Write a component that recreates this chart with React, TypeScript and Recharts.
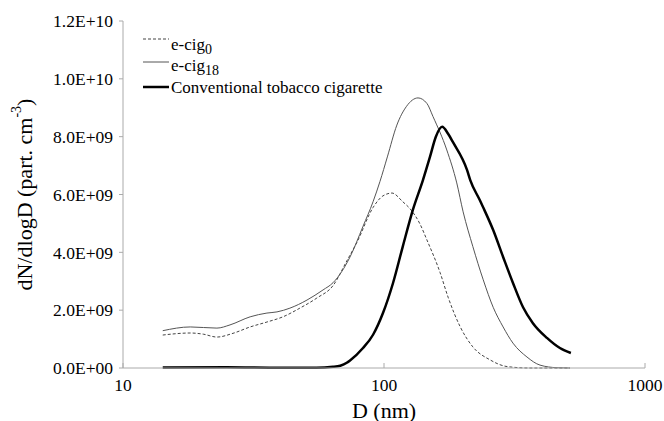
import React from 'react';
import { LineChart, Line, XAxis, YAxis, Legend, Label } from 'recharts';

// Particle diameter D (nm) and dN/dlogD values (in units of 1E+09 part. cm^-3)
const ecig0D = [14.2, 18.1, 20.3, 22.9, 26.4, 30.7, 35.6, 41, 47.6, 55.3, 63.8, 72, 78.8, 90.8, 99, 107.3, 118, 126, 137, 146, 164, 176, 196, 219, 255, 296, 360, 516];
const ecig0V = [1.14, 1.21, 1.17, 1.07, 1.2, 1.42, 1.59, 1.77, 2.07, 2.42, 2.85, 3.7, 4.35, 5.55, 5.95, 6.05, 5.75, 5.5, 5.0, 4.43, 3.3, 2.45, 1.42, 0.73, 0.28, 0.05, 0.0, 0];

const ecig18D = [14.2, 18.1, 22.9, 25.7, 30.7, 35.6, 38.9, 43.6, 50.7, 58.4, 63.8, 74.1, 83.1, 90.8, 96.5, 103, 112, 122, 135, 146, 154, 174, 190, 201, 219, 240, 262, 286, 312, 353, 396, 460, 516];
const ecig18V = [1.29, 1.42, 1.38, 1.49, 1.77, 1.9, 1.94, 2.07, 2.35, 2.7, 2.95, 3.84, 4.9, 5.75, 6.45, 7.3, 8.4, 9.05, 9.34, 9.15, 8.7, 7.54, 6.4, 5.4, 4.2, 3.05, 2.1, 1.42, 0.86, 0.38, 0.1, 0.01, 0];

const convD = [14.2, 25, 40, 55, 63.8, 68, 72, 74.1, 83.1, 90.8, 99.1, 108.3, 118, 129, 141, 150, 158, 167, 176, 184, 208, 214, 233, 240, 262, 286, 312, 341, 372, 421, 472, 520];
const convV = [0.02, 0.03, 0.01, 0.01, 0.04, 0.08, 0.18, 0.26, 0.69, 1.15, 1.9, 2.94, 4.2, 5.47, 6.5, 7.3, 8.0, 8.34, 8.1, 7.8, 6.85, 6.5, 5.8, 5.55, 4.77, 3.84, 2.94, 2.1, 1.55, 1.04, 0.69, 0.52];

const xTicks = [10, 100, 1000];
const yTicks = [0, 2, 4, 6, 8, 10, 12];

const seriesNames = ['e-cig0', 'e-cig18', 'Conventional tobacco cigarette'];

const toRows = (ds: number[], vs: number[]) => ds.map((d, i) => ({ d, v: vs[i] }));

const ecig0Data = toRows(ecig0D, ecig0V);
const ecig18Data = toRows(ecig18D, ecig18V);
const convData = toRows(convD, convV);

const FONT = "'Liberation Serif', 'Times New Roman', Tinos, 'DejaVu Serif', serif";

const fmtY = (v: number) => {
  const val = v * 1e9;
  if (val === 0) return '0.0E+00';
  const e = Math.floor(Math.log10(val) + 1e-9);
  const m = val / Math.pow(10, e);
  return `${m.toFixed(1)}E+${String(e).padStart(2, '0')}`;
};

const YLabel = (props: any) => {
  const vb = props.viewBox || { x: 0, y: 0, width: 0, height: 0 };
  const cx = vb.x + 24;
  const cy = vb.y + vb.height / 2;
  return (
    <text
      x={cx}
      y={cy}
      transform={`rotate(-90, ${cx}, ${cy})`}
      textAnchor="middle"
      dominantBaseline="central"
      style={{ fontFamily: FONT }}
      fontSize={22}
      fill="#000"
    >
      dN/dlogD (part. cm
      <tspan dy={-8} fontSize={14}>-3</tspan>
      <tspan dy={8}>)</tspan>
    </text>
  );
};

const LegendBox = () => {
  const lineY = [19, 42, 67];
  const textY = [30, 51, 73];
  const styles = [
    { stroke: '#444', width: 1, dash: '3 2' },
    { stroke: '#555', width: 1, dash: undefined },
    { stroke: '#000', width: 2.5, dash: undefined },
  ];
  const subs = ['0', '18', ''];
  const mains = ['e-cig', 'e-cig', 'Conventional tobacco cigarette'];
  return (
    <svg width={280} height={85} style={{ display: 'block' }}>
      {seriesNames.map((n, i) => (
        <g key={n}>
          <line x1={13} x2={39} y1={lineY[i]} y2={lineY[i]} stroke={styles[i].stroke} strokeWidth={styles[i].width} strokeDasharray={styles[i].dash} />
          <text x={41} y={textY[i]} style={{ fontFamily: FONT }} fontSize={17} fill="#000">
            {mains[i]}
            {subs[i] ? <tspan dy={4} fontSize={14}>{subs[i]}</tspan> : null}
          </text>
        </g>
      ))}
    </svg>
  );
};

const tickStyle = { fill: '#000', fontSize: 17.5, style: { fontFamily: FONT } };

export default function App() {
  return (
    <div style={{ position: 'absolute', left: 0, top: 0, width: 664, height: 421, background: '#fff', fontFamily: FONT }}>
      <LineChart width={664} height={421} margin={{ top: 21, right: 19, left: 0, bottom: 0 }} style={{ fontFamily: FONT }}>
        <XAxis
          dataKey="d"
          type="number"
          scale="log"
          domain={[10, 1000]}
          ticks={xTicks}
          allowDataOverflow
          height={53}
          stroke="#aaa"
          tickSize={-5}
          tickMargin={16}
          tick={tickStyle}
        >
          <Label value="D (nm)" position="insideBottom" offset={3.5} fill="#000" fontSize={22} style={{ fontFamily: FONT }} />
        </XAxis>
        <XAxis xAxisId="top" orientation="top" type="number" scale="log" domain={[10, 1000]} ticks={xTicks} height={0} tick={false} tickLine={false} stroke="#aaa" />
        <YAxis
          type="number"
          domain={[0, 12]}
          ticks={yTicks}
          width={123}
          stroke="#aaa"
          tickSize={4}
          tickMargin={6}
          tickFormatter={fmtY}
          tick={tickStyle}
          label={<YLabel />}
        />
        <YAxis yAxisId="right" orientation="right" domain={[0, 12]} width={0} tick={false} tickLine={false} stroke="#aaa" />
        <Legend
          layout="vertical"
          align="center"
          verticalAlign="middle"
          wrapperStyle={{ left: 130, top: 20, width: 280, height: 85 }}
          content={() => <LegendBox />}
        />
        <Line data={ecig0Data} dataKey="v" name={seriesNames[0]} type="monotone" stroke="#444" strokeWidth={1} strokeDasharray="3 2" dot={false} isAnimationActive={false} />
        <Line data={ecig18Data} dataKey="v" name={seriesNames[1]} type="monotone" stroke="#555" strokeWidth={1} dot={false} isAnimationActive={false} />
        <Line data={convData} dataKey="v" name={seriesNames[2]} type="monotone" stroke="#000" strokeWidth={2.5} dot={false} isAnimationActive={false} />
      </LineChart>
    </div>
  );
}
